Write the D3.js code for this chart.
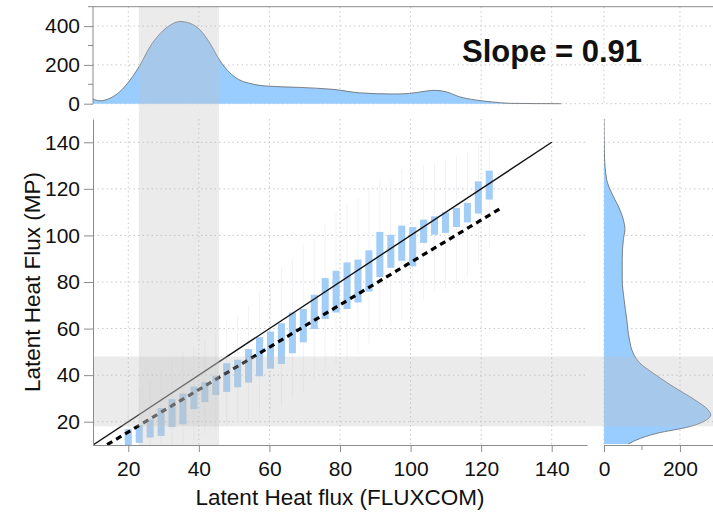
<!DOCTYPE html>
<html>
<head>
<meta charset="utf-8">
<script src="https://cdn.jsdelivr.net/npm/d3@7"></script>
<style>
  body { margin: 0; background: #fff; }
  text { font-family: "Liberation Sans", Arial, sans-serif; fill: #111; }
  .axis path, .axis line { stroke: #8c8c8c; }
  .grid line { stroke: #c8c8c8; stroke-dasharray: 1.5,3; }
</style>
</head>
<body>
<svg width="713" height="514"></svg>
<script>
// bins along FLUXCOM latent heat flux, with box (quartile) and whisker extents of MP
var binX = [20, 23.1, 26.2, 29.3, 32.4, 35.5, 38.6, 41.7, 44.8, 47.9, 51, 54.1, 57.2, 60.3, 63.4, 66.5, 69.6,
            72.7, 75.8, 78.9, 82, 85.1, 88.2, 91.3, 94.4, 97.5, 100.6, 103.7, 106.8, 109.9, 113, 116.1, 119.2, 122.3];
var boxHi = [16.8, 18.5, 21.0, 25.9, 29.7, 32.1, 35.1, 37.0, 39.8, 45.1, 46.6, 51.2, 56.3, 58.7, 62.3, 66.9, 68.4,
             74.5, 81.7, 84.8, 88.4, 89.6, 93.6, 101.5, 100.3, 104.2, 103.6, 106.8, 108.2, 109.9, 111.8, 114.0, 123.2, 127.8];
var boxLo = [9, 10.9, 13.2, 13.9, 17.7, 18.9, 25.4, 28.4, 31.5, 32.8, 34.8, 36.8, 39.5, 42.8, 44.8, 49.4, 54.1,
             59.8, 64.1, 66.9, 68.4, 71.2, 75.9, 82.1, 86.1, 89.1, 86.7, 96.8, 100.3, 101.1, 103.6, 105.6, 109.4, 115.4];
var whiskHi = [30, 34, 38, 42, 47, 50, 52, 55, 58, 64, 66, 70, 76, 80, 86, 90, 96,
               98, 105, 110, 114, 116, 120, 125, 124, 128, 128, 130, 131, 132, 134, 136, 140, 142];
var whiskLo = [5, 5, 5, 5, 6, 6, 12, 15, 17, 18, 20, 21, 23, 25, 27, 30, 33,
               38, 42, 45, 46, 49, 53, 58, 62, 64, 64, 72, 76, 77, 79, 82, 88, 95];

// fitted line
var fitSlope = 0.91, fitIntercept = -2.6, fitRange = [14, 126];
var oneToOne = [10, 140];

// marginal density of FLUXCOM (top)
var denTopX = [10, 12, 14.8, 17.6, 20.5, 23.3, 26.1, 29, 31.8, 34.6, 37.4, 40.3, 43.1, 45.9, 48.8, 51.6, 54.4,
               59.1, 68.6, 78, 85.6, 94.9, 99.7, 104.4, 106.7, 110, 113.8, 118.5, 123.2, 128, 135, 142.6];
var denTopV = [24, 15, 28, 62, 122, 198, 292, 361, 404, 424, 415, 381, 313, 224, 159, 122, 105,
               91, 84, 74, 56, 50, 53, 65, 69, 62, 36, 19, 9, 2, 0.5, 0];

// marginal density of MP (right)
var denRightY = [150, 135.5, 124, 118.3, 111, 106.8, 102.5, 98.2, 89.6, 81, 72.4, 63.8, 55.2, 49.4, 45.1,
                 40.8, 35.1, 29.4, 25.1, 22.9, 20.8, 17.9, 15, 12.2, 10.4];
var denRightV = [0, 1, 7, 20, 42, 51, 55, 51, 48, 48, 53, 60, 67, 77, 95,
                 130, 182, 239, 274, 281, 270, 226, 139, 86, 64];

// shaded ranges
var bandX = [23, 45.7];
var bandY = [18, 48];

var xTicks = [20, 40, 60, 80, 100, 120, 140];
var yTicks = [20, 40, 60, 80, 100, 120, 140];
var topTicks = [0, 200, 400];
var topMinor = [100, 300, 500];
var rightTicks = [0, 200];
var rightMinor = [100];

var svg = d3.select("svg");

var x = d3.scaleLinear().domain([10, 150]).range([93, 587]);
var y = d3.scaleLinear().domain([10, 150]).range([445, 119]);
var yTop = d3.scaleLinear().domain([0, 500]).range([103.7, 6.7]);
var xRight = d3.scaleLinear().domain([0, 287]).range([604, 713]);

var blue = "#99ccff";

// clip for main panel
svg.append("clipPath").attr("id", "mainclip")
  .append("rect").attr("x", x(10)).attr("y", y(150)).attr("width", x(150) - x(10)).attr("height", y(10) - y(150));
svg.append("clipPath").attr("id", "rightclip")
  .append("rect").attr("x", xRight(0)).attr("y", y(150)).attr("width", xRight(287) - xRight(0)).attr("height", y(10) - y(150));

// ---- grids
var grid = svg.append("g").attr("class", "grid");
// top panel
grid.selectAll(".gt").data(topTicks.slice(1)).enter().append("line")
  .attr("x1", x(10)).attr("x2", 713).attr("y1", function(d) { return yTop(d); }).attr("y2", function(d) { return yTop(d); });
grid.append("line").attr("x1", x(10)).attr("x2", 713).attr("y1", yTop(0)).attr("y2", yTop(0));
grid.selectAll(".gtx").data(xTicks).enter().append("line")
  .attr("x1", function(d) { return x(d); }).attr("x2", function(d) { return x(d); })
  .attr("y1", yTop(500)).attr("y2", yTop(0));
grid.selectAll(".gtr").data(rightTicks).enter().append("line")
  .attr("x1", function(d) { return xRight(d); }).attr("x2", function(d) { return xRight(d); })
  .attr("y1", yTop(500)).attr("y2", yTop(0));
// main panel
grid.selectAll(".gmy").data(yTicks).enter().append("line")
  .attr("x1", x(10)).attr("x2", x(150)).attr("y1", function(d) { return y(d); }).attr("y2", function(d) { return y(d); });
grid.selectAll(".gmx").data(xTicks).enter().append("line")
  .attr("x1", function(d) { return x(d); }).attr("x2", function(d) { return x(d); })
  .attr("y1", y(150)).attr("y2", y(10));
// right panel
grid.selectAll(".gry").data(yTicks).enter().append("line")
  .attr("x1", xRight(0)).attr("x2", 713).attr("y1", function(d) { return y(d); }).attr("y2", function(d) { return y(d); });
grid.selectAll(".grx").data(rightTicks).enter().append("line")
  .attr("x1", function(d) { return xRight(d); }).attr("x2", function(d) { return xRight(d); })
  .attr("y1", y(150)).attr("y2", y(10));

// ---- top density
var topData = denTopX.map(function(d, i) { return {x: d, v: denTopV[i]}; });
var areaTop = d3.area().curve(d3.curveMonotoneX)
  .x(function(d) { return x(d.x); }).y0(yTop(0)).y1(function(d) { return yTop(d.v); });
svg.append("path").datum(topData).attr("d", areaTop).attr("fill", blue);
svg.append("path").datum(topData)
  .attr("d", d3.line().curve(d3.curveMonotoneX).x(function(d) { return x(d.x); }).y(function(d) { return yTop(d.v); }))
  .attr("fill", "none").attr("stroke", "#666").attr("stroke-width", 0.8);

// ---- right density
var rightData = denRightY.map(function(d, i) { return {y: d, v: denRightV[i]}; });
var gR = svg.append("g").attr("clip-path", "url(#rightclip)");
gR.append("path").datum(rightData)
  .attr("d", d3.area().curve(d3.curveMonotoneY).y(function(d) { return y(d.y); })
    .x0(xRight(0)).x1(function(d) { return xRight(d.v); }))
  .attr("fill", blue);
gR.append("path").datum(rightData)
  .attr("d", d3.line().curve(d3.curveMonotoneY).y(function(d) { return y(d.y); }).x(function(d) { return xRight(d.v); }))
  .attr("fill", "none").attr("stroke", "#666").attr("stroke-width", 0.8);

// ---- main panel boxes
var gM = svg.append("g").attr("clip-path", "url(#mainclip)");
var bins = binX.map(function(d, i) {
  return {x: d, hi: boxHi[i], lo: boxLo[i], wh: whiskHi[i], wl: whiskLo[i]};
});
gM.selectAll(".whisk").data(bins).enter().append("line")
  .attr("x1", function(d) { return x(d.x); }).attr("x2", function(d) { return x(d.x); })
  .attr("y1", function(d) { return y(d.wh); }).attr("y2", function(d) { return y(d.wl); })
  .attr("stroke", "#f0f3f7").attr("stroke-width", 1);
gM.selectAll(".box").data(bins).enter().append("rect")
  .attr("x", function(d) { return x(d.x - 1); })
  .attr("width", x(12) - x(10))
  .attr("y", function(d) { return y(d.hi); })
  .attr("height", function(d) { return y(d.lo) - y(d.hi); })
  .attr("fill", "#a2cdf7");

// ---- shaded bands
svg.append("rect")
  .attr("x", x(bandX[0])).attr("width", x(bandX[1]) - x(bandX[0]))
  .attr("y", yTop(500)).attr("height", y(10) - yTop(500))
  .attr("fill", "#c0c0c0").attr("opacity", 0.32);
svg.append("rect")
  .attr("x", x(10)).attr("width", 713 - x(10))
  .attr("y", y(bandY[1])).attr("height", y(bandY[0]) - y(bandY[1]))
  .attr("fill", "#c0c0c0").attr("opacity", 0.32);

// ---- lines
gM.append("line")
  .attr("x1", x(oneToOne[0])).attr("y1", y(oneToOne[0]))
  .attr("x2", x(oneToOne[1])).attr("y2", y(oneToOne[1]))
  .attr("stroke", "#111").attr("stroke-width", 1.4);
gM.append("line")
  .attr("x1", x(fitRange[0])).attr("y1", y(fitSlope * fitRange[0] + fitIntercept))
  .attr("x2", x(fitRange[1])).attr("y2", y(fitSlope * fitRange[1] + fitIntercept))
  .attr("stroke", "#000").attr("stroke-width", 3.2).attr("stroke-dasharray", "6,4.5");

// ---- axes
var fs = "21px";
function style(g) {
  g.selectAll("text").style("font-size", fs).style("fill", "#111").style("font-family", "Liberation Sans, Arial, sans-serif");
}

// top panel y axis
var ayTop = svg.append("g").attr("class", "axis").attr("transform", "translate(" + x(10) + ",0)")
  .call(d3.axisLeft(yTop).tickValues(topTicks).tickSize(9).tickPadding(4).tickSizeOuter(0));
ayTop.select(".domain").attr("d", "M0," + yTop(500) + "V" + yTop(0));
style(ayTop);
ayTop.selectAll(".minor").data(topMinor).enter().append("line")
  .attr("x1", -5).attr("x2", 0).attr("y1", function(d) { return yTop(d); }).attr("y2", function(d) { return yTop(d); })
  .attr("stroke", "#8c8c8c");
// top frame line
svg.append("line").attr("x1", x(10)).attr("x2", 713).attr("y1", yTop(500)).attr("y2", yTop(500))
  .attr("stroke", "#8c8c8c");

// main y axis
var ay = svg.append("g").attr("class", "axis").attr("transform", "translate(" + x(10) + ",0)")
  .call(d3.axisLeft(y).tickValues(yTicks).tickSize(9).tickPadding(4).tickSizeOuter(0));
style(ay);

// main x axis
var ax = svg.append("g").attr("class", "axis").attr("transform", "translate(0," + y(10) + ")")
  .call(d3.axisBottom(x).tickValues(xTicks).tickSize(7).tickPadding(9).tickSizeOuter(0));
style(ax);

// right x axis
var axR = svg.append("g").attr("class", "axis").attr("transform", "translate(0," + y(10) + ")")
  .call(d3.axisBottom(xRight).tickValues(rightTicks).tickSize(7).tickPadding(9).tickSizeOuter(0));
style(axR);
axR.selectAll(".minor").data(rightMinor).enter().append("line")
  .attr("x1", function(d) { return xRight(d); }).attr("x2", function(d) { return xRight(d); })
  .attr("y1", 0).attr("y2", 5).attr("stroke", "#8c8c8c");

// ---- titles
svg.append("text")
  .attr("x", (x(10) + x(150)) / 2).attr("y", 505)
  .attr("text-anchor", "middle").style("font-size", "22.5px")
  .text("Latent Heat flux (FLUXCOM)");

svg.append("text")
  .attr("transform", "translate(40," + (y(10) + y(150)) / 2 + ") rotate(-90)")
  .attr("text-anchor", "middle").style("font-size", "22.5px")
  .text("Latent Heat Flux (MP)");

svg.append("text")
  .attr("x", 462).attr("y", 61.5)
  .style("font-size", "31px").style("font-weight", "bold")
  .text("Slope = 0.91");
</script>
</body>
</html>
